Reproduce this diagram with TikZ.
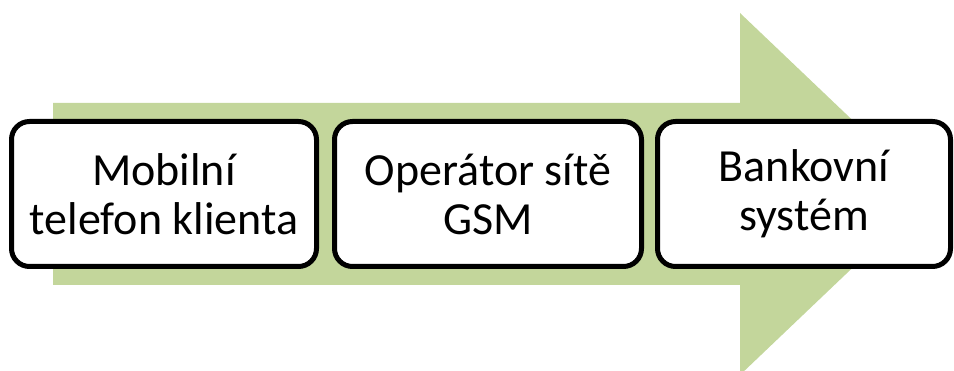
\documentclass[tikz,border=0pt]{standalone}
\usepackage{fontspec}
\setmainfont{Carlito}
\definecolor{flowgreen}{RGB}{195,214,155}
\begin{document}
\begin{tikzpicture}[x=1pt,y=-1pt,
  stage/.style={draw=black, line width=5pt, fill=white, rounded corners=18pt,
    minimum width=305pt, minimum height=145pt, inner sep=0pt,
    align=center, font=\fontsize{46}{49}\selectfont}]
  \useasboundingbox (0,0) rectangle (954,371);
  \clip (0,0) rectangle (954,371);
  % broad background arrow
  \fill[flowgreen] (53,103) -- (740,103) -- (740,13) -- (930,194)
    -- (740,375) -- (740,285) -- (53,285) -- cycle;
  % process stages
  \node[stage, minimum width=305pt] (s1) at (164,194) {Mobilní\\telefon klienta};
  \node[stage, minimum width=307pt] (s2) at (488,194) {Operátor sítě\\GSM};
  \node[stage, minimum width=293pt] (s3) at (804,194) {Bankovní\\systém};
\end{tikzpicture}
\end{document}
